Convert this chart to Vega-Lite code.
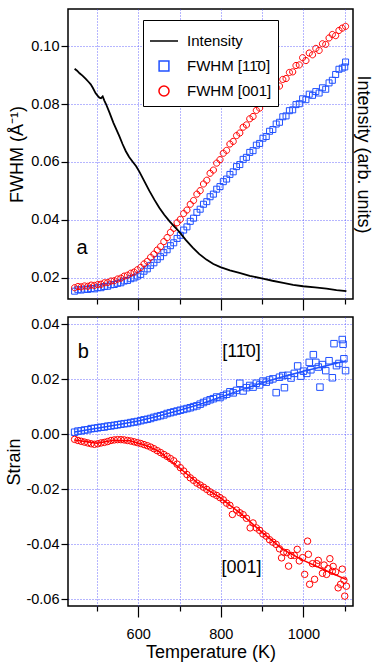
{
 "$schema": "https://vega.github.io/schema/vega-lite/v6.json",
 "background": "white",
 "padding": {"left": 5, "top": 8, "right": 5, "bottom": 5},
 "spacing": 3,
 "config": {
   "font": "Liberation Sans",
   "view": {"stroke": "black", "strokeWidth": 1.5},
   "axis": {"domain": false, "tickColor": "black", "tickWidth": 1.2, "labelColor": "black", "labelFontSize": 14.5, "titleColor": "black", "titleFontSize": 18, "titleFontWeight": "normal", "gridColor": "#3b3bff", "gridDash": [1, 2], "gridOpacity": 0.75, "gridWidth": 1}
 },
 "datasets": {
  "top": [
   {"T":446,"v":0.0922,"s":"k"},{"T":452,"v":0.0915,"s":"k"},{"T":458,"v":0.0906,"s":"k"},{"T":465,"v":0.0898,"s":"k"},{"T":473,"v":0.0887,"s":"k"},{"T":480,"v":0.0876,"s":"k"},{"T":485,"v":0.0868,"s":"k"},{"T":490,"v":0.0856,"s":"k"},{"T":497,"v":0.0837,"s":"k"},{"T":502,"v":0.0828,"s":"k"},{"T":506,"v":0.0822,"s":"k"},{"T":510,"v":0.0820,"s":"k"},{"T":514,"v":0.0826,"s":"k"},{"T":518,"v":0.0812,"s":"k"},{"T":522,"v":0.0800,"s":"k"},{"T":530,"v":0.0772,"s":"k"},{"T":540,"v":0.0735,"s":"k"},{"T":554,"v":0.0690,"s":"k"},{"T":562,"v":0.0662,"s":"k"},{"T":570,"v":0.0637,"s":"k"},{"T":578,"v":0.0617,"s":"k"},{"T":587,"v":0.0600,"s":"k"},{"T":595,"v":0.0585,"s":"k"},{"T":603,"v":0.0566,"s":"k"},{"T":615,"v":0.0533,"s":"k"},{"T":627,"v":0.0500,"s":"k"},{"T":639,"v":0.0470,"s":"k"},{"T":651,"v":0.0442,"s":"k"},{"T":663,"v":0.0418,"s":"k"},{"T":676,"v":0.0395,"s":"k"},{"T":687,"v":0.0378,"s":"k"},{"T":698,"v":0.0361,"s":"k"},{"T":715,"v":0.0331,"s":"k"},{"T":732,"v":0.0304,"s":"k"},{"T":748,"v":0.0282,"s":"k"},{"T":765,"v":0.0263,"s":"k"},{"T":782,"v":0.0248,"s":"k"},{"T":799,"v":0.0237,"s":"k"},{"T":822,"v":0.0226,"s":"k"},{"T":845,"v":0.0217,"s":"k"},{"T":870,"v":0.0207,"s":"k"},{"T":902,"v":0.0197,"s":"k"},{"T":925,"v":0.0190,"s":"k"},{"T":951,"v":0.0183,"s":"k"},{"T":975,"v":0.0176,"s":"k"},{"T":999,"v":0.0171,"s":"k"},{"T":1028,"v":0.0167,"s":"k"},{"T":1056,"v":0.0163,"s":"k"},{"T":1080,"v":0.0158,"s":"k"},{"T":1104,"v":0.0154,"s":"k"},
   {"T":446,"v":0.0154,"s":"b"},{"T":454,"v":0.0159,"s":"b"},{"T":462,"v":0.0158,"s":"b"},{"T":470,"v":0.0161,"s":"b"},{"T":478,"v":0.0160,"s":"b"},{"T":486,"v":0.0163,"s":"b"},{"T":494,"v":0.0162,"s":"b"},{"T":502,"v":0.0166,"s":"b"},{"T":510,"v":0.0166,"s":"b"},{"T":518,"v":0.0170,"s":"b"},{"T":526,"v":0.0171,"s":"b"},{"T":534,"v":0.0176,"s":"b"},{"T":542,"v":0.0177,"s":"b"},{"T":550,"v":0.0181,"s":"b"},{"T":558,"v":0.0183,"s":"b"},{"T":566,"v":0.0189,"s":"b"},{"T":574,"v":0.0191,"s":"b"},{"T":582,"v":0.0197,"s":"b"},{"T":590,"v":0.0200,"s":"b"},{"T":598,"v":0.0206,"s":"b"},{"T":606,"v":0.0212,"s":"b"},{"T":614,"v":0.0223,"s":"b"},{"T":622,"v":0.0231,"s":"b"},{"T":630,"v":0.0243,"s":"b"},{"T":638,"v":0.0252,"s":"b"},{"T":646,"v":0.0264,"s":"b"},{"T":654,"v":0.0273,"s":"b"},{"T":662,"v":0.0287,"s":"b"},{"T":670,"v":0.0297,"s":"b"},{"T":678,"v":0.0311,"s":"b"},{"T":686,"v":0.0321,"s":"b"},{"T":694,"v":0.0336,"s":"b"},{"T":702,"v":0.0347,"s":"b"},{"T":710,"v":0.0365,"s":"b"},{"T":718,"v":0.0376,"s":"b"},{"T":726,"v":0.0395,"s":"b"},{"T":734,"v":0.0406,"s":"b"},{"T":742,"v":0.0426,"s":"b"},{"T":750,"v":0.0437,"s":"b"},{"T":758,"v":0.0454,"s":"b"},{"T":766,"v":0.0463,"s":"b"},{"T":774,"v":0.0480,"s":"b"},{"T":782,"v":0.0489,"s":"b"},{"T":790,"v":0.0506,"s":"b"},{"T":798,"v":0.0515,"s":"b"},{"T":806,"v":0.0532,"s":"b"},{"T":814,"v":0.0541,"s":"b"},{"T":822,"v":0.0557,"s":"b"},{"T":830,"v":0.0566,"s":"b"},{"T":838,"v":0.0584,"s":"b"},{"T":846,"v":0.0591,"s":"b"},{"T":854,"v":0.0609,"s":"b"},{"T":862,"v":0.0616,"s":"b"},{"T":870,"v":0.0633,"s":"b"},{"T":878,"v":0.0639,"s":"b"},{"T":886,"v":0.0658,"s":"b"},{"T":894,"v":0.0664,"s":"b"},{"T":902,"v":0.0682,"s":"b"},{"T":910,"v":0.0688,"s":"b"},{"T":918,"v":0.0706,"s":"b"},{"T":926,"v":0.0712,"s":"b"},{"T":934,"v":0.0731,"s":"b"},{"T":942,"v":0.0737,"s":"b"},{"T":950,"v":0.0756,"s":"b"},{"T":958,"v":0.0759,"s":"b"},{"T":966,"v":0.0777,"s":"b"},{"T":974,"v":0.0780,"s":"b"},{"T":982,"v":0.0798,"s":"b"},{"T":990,"v":0.0801,"s":"b"},{"T":998,"v":0.0818,"s":"b"},{"T":1006,"v":0.0815,"s":"b"},{"T":1014,"v":0.0834,"s":"b"},{"T":1022,"v":0.0830,"s":"b"},{"T":1030,"v":0.0843,"s":"b"},{"T":1038,"v":0.0838,"s":"b"},{"T":1046,"v":0.0856,"s":"b"},{"T":1054,"v":0.0851,"s":"b"},{"T":1062,"v":0.0873,"s":"b"},{"T":1070,"v":0.0882,"s":"b"},{"T":1078,"v":0.0902,"s":"b"},{"T":1086,"v":0.0920,"s":"b"},{"T":1094,"v":0.0924,"s":"b"},{"T":1100,"v":0.0928,"s":"b"},{"T":1102,"v":0.0945,"s":"b"},
   {"T":446,"v":0.0166,"s":"r"},{"T":454,"v":0.0170,"s":"r"},{"T":462,"v":0.0169,"s":"r"},{"T":470,"v":0.0172,"s":"r"},{"T":478,"v":0.0171,"s":"r"},{"T":486,"v":0.0175,"s":"r"},{"T":494,"v":0.0174,"s":"r"},{"T":502,"v":0.0177,"s":"r"},{"T":510,"v":0.0178,"s":"r"},{"T":518,"v":0.0183,"s":"r"},{"T":526,"v":0.0184,"s":"r"},{"T":534,"v":0.0189,"s":"r"},{"T":542,"v":0.0190,"s":"r"},{"T":550,"v":0.0196,"s":"r"},{"T":558,"v":0.0199,"s":"r"},{"T":566,"v":0.0206,"s":"r"},{"T":574,"v":0.0209,"s":"r"},{"T":582,"v":0.0216,"s":"r"},{"T":590,"v":0.0220,"s":"r"},{"T":598,"v":0.0228,"s":"r"},{"T":606,"v":0.0236,"s":"r"},{"T":614,"v":0.0248,"s":"r"},{"T":622,"v":0.0257,"s":"r"},{"T":630,"v":0.0271,"s":"r"},{"T":638,"v":0.0282,"s":"r"},{"T":646,"v":0.0296,"s":"r"},{"T":654,"v":0.0308,"s":"r"},{"T":662,"v":0.0325,"s":"r"},{"T":670,"v":0.0339,"s":"r"},{"T":678,"v":0.0357,"s":"r"},{"T":686,"v":0.0371,"s":"r"},{"T":694,"v":0.0390,"s":"r"},{"T":702,"v":0.0402,"s":"r"},{"T":710,"v":0.0422,"s":"r"},{"T":718,"v":0.0434,"s":"r"},{"T":726,"v":0.0454,"s":"r"},{"T":734,"v":0.0467,"s":"r"},{"T":742,"v":0.0489,"s":"r"},{"T":750,"v":0.0501,"s":"r"},{"T":758,"v":0.0524,"s":"r"},{"T":766,"v":0.0537,"s":"r"},{"T":774,"v":0.0561,"s":"r"},{"T":782,"v":0.0572,"s":"r"},{"T":790,"v":0.0596,"s":"r"},{"T":798,"v":0.0608,"s":"r"},{"T":806,"v":0.0630,"s":"r"},{"T":814,"v":0.0640,"s":"r"},{"T":822,"v":0.0662,"s":"r"},{"T":830,"v":0.0671,"s":"r"},{"T":838,"v":0.0691,"s":"r"},{"T":846,"v":0.0700,"s":"r"},{"T":854,"v":0.0720,"s":"r"},{"T":862,"v":0.0728,"s":"r"},{"T":870,"v":0.0749,"s":"r"},{"T":878,"v":0.0757,"s":"r"},{"T":886,"v":0.0778,"s":"r"},{"T":894,"v":0.0786,"s":"r"},{"T":902,"v":0.0806,"s":"r"},{"T":910,"v":0.0812,"s":"r"},{"T":918,"v":0.0833,"s":"r"},{"T":926,"v":0.0838,"s":"r"},{"T":934,"v":0.0858,"s":"r"},{"T":942,"v":0.0862,"s":"r"},{"T":950,"v":0.0885,"s":"r"},{"T":958,"v":0.0888,"s":"r"},{"T":966,"v":0.0909,"s":"r"},{"T":974,"v":0.0911,"s":"r"},{"T":982,"v":0.0933,"s":"r"},{"T":990,"v":0.0935,"s":"r"},{"T":998,"v":0.0960,"s":"r"},{"T":1006,"v":0.0950,"s":"r"},{"T":1014,"v":0.0976,"s":"r"},{"T":1022,"v":0.0970,"s":"r"},{"T":1030,"v":0.0992,"s":"r"},{"T":1038,"v":0.0985,"s":"r"},{"T":1046,"v":0.1008,"s":"r"},{"T":1054,"v":0.1006,"s":"r"},{"T":1062,"v":0.1028,"s":"r"},{"T":1070,"v":0.1040,"s":"r"},{"T":1078,"v":0.1036,"s":"r"},{"T":1086,"v":0.1054,"s":"r"},{"T":1094,"v":0.1062,"s":"r"},{"T":1102,"v":0.1068,"s":"r"}
  ],
  "bot": [
   {"T":446,"v":0.0008,"s":"b"},{"T":454,"v":0.0012,"s":"b"},{"T":462,"v":0.0013,"s":"b"},{"T":470,"v":0.0016,"s":"b"},{"T":478,"v":0.0017,"s":"b"},{"T":486,"v":0.0021,"s":"b"},{"T":494,"v":0.0022,"s":"b"},{"T":502,"v":0.0024,"s":"b"},{"T":510,"v":0.0026,"s":"b"},{"T":518,"v":0.0027,"s":"b"},{"T":526,"v":0.0030,"s":"b"},{"T":534,"v":0.0031,"s":"b"},{"T":542,"v":0.0033,"s":"b"},{"T":550,"v":0.0035,"s":"b"},{"T":558,"v":0.0037,"s":"b"},{"T":566,"v":0.0039,"s":"b"},{"T":574,"v":0.0040,"s":"b"},{"T":582,"v":0.0043,"s":"b"},{"T":590,"v":0.0045,"s":"b"},{"T":598,"v":0.0047,"s":"b"},{"T":606,"v":0.0050,"s":"b"},{"T":614,"v":0.0053,"s":"b"},{"T":622,"v":0.0055,"s":"b"},{"T":630,"v":0.0058,"s":"b"},{"T":638,"v":0.0062,"s":"b"},{"T":646,"v":0.0065,"s":"b"},{"T":654,"v":0.0068,"s":"b"},{"T":662,"v":0.0071,"s":"b"},{"T":670,"v":0.0076,"s":"b"},{"T":678,"v":0.0079,"s":"b"},{"T":686,"v":0.0082,"s":"b"},{"T":694,"v":0.0085,"s":"b"},{"T":702,"v":0.0088,"s":"b"},{"T":710,"v":0.0091,"s":"b"},{"T":718,"v":0.0094,"s":"b"},{"T":726,"v":0.0097,"s":"b"},{"T":734,"v":0.0101,"s":"b"},{"T":742,"v":0.0104,"s":"b"},{"T":750,"v":0.0110,"s":"b"},{"T":758,"v":0.0116,"s":"b"},{"T":766,"v":0.0121,"s":"b"},{"T":774,"v":0.0126,"s":"b"},{"T":782,"v":0.0130,"s":"b"},{"T":790,"v":0.0136,"s":"b"},{"T":798,"v":0.0134,"s":"b"},{"T":806,"v":0.0141,"s":"b"},{"T":814,"v":0.0146,"s":"b"},{"T":822,"v":0.0155,"s":"b"},{"T":830,"v":0.0151,"s":"b"},{"T":838,"v":0.0160,"s":"b"},{"T":846,"v":0.0186,"s":"b"},{"T":854,"v":0.0158,"s":"b"},{"T":862,"v":0.0170,"s":"b"},{"T":870,"v":0.0178,"s":"b"},{"T":878,"v":0.0172,"s":"b"},{"T":886,"v":0.0186,"s":"b"},{"T":894,"v":0.0180,"s":"b"},{"T":902,"v":0.0194,"s":"b"},{"T":910,"v":0.0190,"s":"b"},{"T":918,"v":0.0198,"s":"b"},{"T":926,"v":0.0202,"s":"b"},{"T":934,"v":0.0152,"s":"b"},{"T":942,"v":0.0208,"s":"b"},{"T":950,"v":0.0214,"s":"b"},{"T":954,"v":0.0170,"s":"b"},{"T":962,"v":0.0215,"s":"b"},{"T":970,"v":0.0205,"s":"b"},{"T":978,"v":0.0222,"s":"b"},{"T":986,"v":0.0249,"s":"b"},{"T":994,"v":0.0212,"s":"b"},{"T":1000,"v":0.0230,"s":"b"},{"T":1008,"v":0.0222,"s":"b"},{"T":1014,"v":0.0262,"s":"b"},{"T":1018,"v":0.0235,"s":"b"},{"T":1024,"v":0.0290,"s":"b"},{"T":1030,"v":0.0262,"s":"b"},{"T":1036,"v":0.0245,"s":"b"},{"T":1040,"v":0.0172,"s":"b"},{"T":1046,"v":0.0254,"s":"b"},{"T":1054,"v":0.0232,"s":"b"},{"T":1062,"v":0.0268,"s":"b"},{"T":1070,"v":0.0206,"s":"b"},{"T":1074,"v":0.0330,"s":"b"},{"T":1080,"v":0.0250,"s":"b"},{"T":1086,"v":0.0258,"s":"b"},{"T":1094,"v":0.0345,"s":"b"},{"T":1096,"v":0.0328,"s":"b"},{"T":1098,"v":0.0275,"s":"b"},{"T":1102,"v":0.0232,"s":"b"},
   {"T":446,"v":-0.0018,"s":"r"},{"T":454,"v":-0.0022,"s":"r"},{"T":462,"v":-0.0025,"s":"r"},{"T":470,"v":-0.0028,"s":"r"},{"T":478,"v":-0.0031,"s":"r"},{"T":486,"v":-0.0034,"s":"r"},{"T":494,"v":-0.0036,"s":"r"},{"T":502,"v":-0.0034,"s":"r"},{"T":510,"v":-0.0031,"s":"r"},{"T":518,"v":-0.0029,"s":"r"},{"T":526,"v":-0.0026,"s":"r"},{"T":534,"v":-0.0022,"s":"r"},{"T":542,"v":-0.0020,"s":"r"},{"T":550,"v":-0.0019,"s":"r"},{"T":558,"v":-0.0019,"s":"r"},{"T":566,"v":-0.0020,"s":"r"},{"T":574,"v":-0.0022,"s":"r"},{"T":582,"v":-0.0024,"s":"r"},{"T":590,"v":-0.0027,"s":"r"},{"T":598,"v":-0.0030,"s":"r"},{"T":606,"v":-0.0033,"s":"r"},{"T":614,"v":-0.0037,"s":"r"},{"T":622,"v":-0.0041,"s":"r"},{"T":630,"v":-0.0046,"s":"r"},{"T":638,"v":-0.0052,"s":"r"},{"T":646,"v":-0.0059,"s":"r"},{"T":654,"v":-0.0066,"s":"r"},{"T":662,"v":-0.0073,"s":"r"},{"T":670,"v":-0.0080,"s":"r"},{"T":678,"v":-0.0088,"s":"r"},{"T":686,"v":-0.0096,"s":"r"},{"T":694,"v":-0.0108,"s":"r"},{"T":702,"v":-0.0121,"s":"r"},{"T":710,"v":-0.0133,"s":"r"},{"T":718,"v":-0.0146,"s":"r"},{"T":726,"v":-0.0158,"s":"r"},{"T":734,"v":-0.0167,"s":"r"},{"T":742,"v":-0.0177,"s":"r"},{"T":750,"v":-0.0184,"s":"r"},{"T":758,"v":-0.0192,"s":"r"},{"T":766,"v":-0.0200,"s":"r"},{"T":774,"v":-0.0209,"s":"r"},{"T":782,"v":-0.0216,"s":"r"},{"T":790,"v":-0.0222,"s":"r"},{"T":798,"v":-0.0230,"s":"r"},{"T":806,"v":-0.0238,"s":"r"},{"T":814,"v":-0.0250,"s":"r"},{"T":822,"v":-0.0258,"s":"r"},{"T":828,"v":-0.0291,"s":"r"},{"T":838,"v":-0.0275,"s":"r"},{"T":846,"v":-0.0285,"s":"r"},{"T":854,"v":-0.0292,"s":"r"},{"T":862,"v":-0.0305,"s":"r"},{"T":871,"v":-0.0340,"s":"r"},{"T":878,"v":-0.0322,"s":"r"},{"T":886,"v":-0.0340,"s":"r"},{"T":894,"v":-0.0349,"s":"r"},{"T":902,"v":-0.0362,"s":"r"},{"T":910,"v":-0.0370,"s":"r"},{"T":918,"v":-0.0383,"s":"r"},{"T":926,"v":-0.0392,"s":"r"},{"T":934,"v":-0.0400,"s":"r"},{"T":942,"v":-0.0416,"s":"r"},{"T":947,"v":-0.0449,"s":"r"},{"T":952,"v":-0.0428,"s":"r"},{"T":960,"v":-0.0430,"s":"r"},{"T":964,"v":-0.0479,"s":"r"},{"T":970,"v":-0.0440,"s":"r"},{"T":978,"v":-0.0440,"s":"r"},{"T":985,"v":-0.0418,"s":"r"},{"T":990,"v":-0.0460,"s":"r"},{"T":998,"v":-0.0448,"s":"r"},{"T":1003,"v":-0.0509,"s":"r"},{"T":1010,"v":-0.0388,"s":"r"},{"T":1012,"v":-0.0436,"s":"r"},{"T":1015,"v":-0.0545,"s":"r"},{"T":1022,"v":-0.0470,"s":"r"},{"T":1027,"v":-0.0527,"s":"r"},{"T":1032,"v":-0.0470,"s":"r"},{"T":1036,"v":-0.0458,"s":"r"},{"T":1046,"v":-0.0505,"s":"r"},{"T":1050,"v":-0.0475,"s":"r"},{"T":1056,"v":-0.0509,"s":"r"},{"T":1060,"v":-0.0488,"s":"r"},{"T":1064,"v":-0.0452,"s":"r"},{"T":1070,"v":-0.0498,"s":"r"},{"T":1072,"v":-0.0480,"s":"r"},{"T":1078,"v":-0.0500,"s":"r"},{"T":1084,"v":-0.0558,"s":"r"},{"T":1090,"v":-0.0545,"s":"r"},{"T":1094,"v":-0.0490,"s":"r"},{"T":1098,"v":-0.0530,"s":"r"},{"T":1100,"v":-0.0588,"s":"r"},{"T":1104,"v":-0.0552,"s":"r"}
  ],
  "fit": [
   {"T":446,"v":0.0009,"s":"b"},{"T":500,"v":0.0022,"s":"b"},{"T":550,"v":0.0035,"s":"b"},{"T":600,"v":0.0049,"s":"b"},{"T":650,"v":0.0067,"s":"b"},{"T":700,"v":0.0088,"s":"b"},{"T":750,"v":0.0110,"s":"b"},{"T":800,"v":0.0136,"s":"b"},{"T":850,"v":0.0162,"s":"b"},{"T":900,"v":0.0188,"s":"b"},{"T":950,"v":0.0210,"s":"b"},{"T":1000,"v":0.0230,"s":"b"},{"T":1050,"v":0.0248,"s":"b"},{"T":1104,"v":0.0268,"s":"b"},
   {"T":446,"v":-0.0020,"s":"r"},{"T":500,"v":-0.0032,"s":"r"},{"T":540,"v":-0.0021,"s":"r"},{"T":580,"v":-0.0023,"s":"r"},{"T":620,"v":-0.0040,"s":"r"},{"T":650,"v":-0.0062,"s":"r"},{"T":700,"v":-0.0122,"s":"r"},{"T":750,"v":-0.0184,"s":"r"},{"T":800,"v":-0.0232,"s":"r"},{"T":850,"v":-0.0290,"s":"r"},{"T":900,"v":-0.0356,"s":"r"},{"T":950,"v":-0.0418,"s":"r"},{"T":1000,"v":-0.0458,"s":"r"},{"T":1050,"v":-0.0492,"s":"r"},{"T":1104,"v":-0.0528,"s":"r"}
  ],
  "lab": [
   {"T":464,"v":0.0303,"t":"a"},
   {"T":467,"v":0.0299,"t":"b"},
   {"T":850,"v":0.0300,"t":"[11\u03040]"},
   {"T":850,"v":-0.0485,"t":"[001]"}
  ]
 },
 "resolve": {"scale": {"color": "independent", "shape": "independent"}},
 "vconcat": [
  {
   "width": 285, "height": 290,
   "layer": [
    {"layer": [
     {"data": {"name": "top"}, "transform": [{"filter": "datum.s !== 'k'"}],
      "mark": {"type": "point", "filled": false, "size": 294, "strokeWidth": 1, "opacity": 1},
      "encoding": {
       "x": {"field": "T", "type": "quantitative", "scale": {"domain": [430, 1120], "nice": false, "zero": false},
             "axis": {"values": [500,600,700,800,900,1000,1100], "labels": false, "title": null, "grid": true,
                      "tickSize": {"condition": {"test": "datum.value % 200 === 0", "value": 11}, "value": 5}}},
       "y": {"field": "v", "type": "quantitative", "scale": {"domain": [0.0127, 0.1128], "nice": false, "zero": false},
             "axis": {"values": [0.02,0.04,0.06,0.08,0.1], "format": ".2f", "tickSize": 7, "labelPadding": 2, "title": "FWHM (Å⁻¹)", "titlePadding": 4, "grid": true}},
       "color": {"field": "s", "type": "nominal", "scale": {"domain": ["k","b","r"], "range": ["black","#1f50ff","#ff0000"]},
                 "legend": {"title": null, "orient": "none", "legendX": 75, "legendY": 11,
                            "labelExpr": "datum.value === 'k' ? 'Intensity' : datum.value === 'b' ? 'FWHM [11\u03040]' : 'FWHM [001]'",
                            "labelFontSize": 15, "labelColor": "black", "symbolSize": 784, "symbolStrokeWidth": 1.5, "padding": 6, "rowPadding": 2, "labelOffset": 8,
                            "strokeColor": "black", "fillColor": "white"}},
       "shape": {"field": "s", "type": "nominal", "scale": {"domain": ["k","b","r"], "range": ["M-1,0H1", "M-0.35,-0.35H0.35V0.35H-0.35Z", "M0.36,0A0.36,0.36,0,1,1,-0.36,0A0.36,0.36,0,1,1,0.36,0Z"]},
                 "legend": {"title": null, "orient": "none", "legendX": 75, "legendY": 11,
                            "labelExpr": "datum.value === 'k' ? 'Intensity' : datum.value === 'b' ? 'FWHM [11\u03040]' : 'FWHM [001]'",
                            "labelFontSize": 15, "labelColor": "black", "symbolSize": 784, "symbolStrokeWidth": 1.5, "padding": 6, "rowPadding": 2, "labelOffset": 8,
                            "strokeColor": "black", "fillColor": "white"}}
      }},
     {"data": {"name": "lab"}, "transform": [{"filter": "datum.t === 'a'"}],
      "mark": {"type": "text", "fontSize": 20, "baseline": "middle", "align": "center", "color": "black"},
      "encoding": {"x": {"field": "T", "type": "quantitative"}, "y": {"field": "v", "type": "quantitative"}, "text": {"field": "t"}}}
    ]},
    {"data": {"name": "top"}, "transform": [{"filter": "datum.s === 'k'"}],
     "mark": {"type": "line", "strokeWidth": 1.8},
     "encoding": {
      "x": {"field": "T", "type": "quantitative"},
      "y": {"field": "v", "type": "quantitative", "scale": {"domain": [0.0127, 0.1128], "nice": false, "zero": false},
            "axis": {"orient": "right", "labels": false, "ticks": false, "grid": false, "title": "Intensity (arb. units)", "titlePadding": 0}},
      "color": {"field": "s", "type": "nominal", "scale": {"domain": ["k","b","r"], "range": ["black","#1f50ff","#ff0000"]}}
     }}
   ],
   "resolve": {"scale": {"y": "independent"}}
  },
  {
   "width": 285, "height": 289,
   "layer": [
    {"data": {"name": "bot"},
     "mark": {"type": "point", "filled": false, "size": 42, "strokeWidth": 1, "opacity": 1},
     "encoding": {
      "x": {"field": "T", "type": "quantitative", "scale": {"domain": [430, 1120], "nice": false, "zero": false},
            "axis": {"values": [500,600,700,800,900,1000,1100], "format": "d", "grid": true,
                     "labelExpr": "datum.value % 200 === 0 ? datum.label : ''", "labelPadding": 10,
                     "tickSize": {"condition": {"test": "datum.value % 200 === 0", "value": 11}, "value": 5},
                     "title": "Temperature (K)", "titlePadding": 3}},
      "y": {"field": "v", "type": "quantitative", "scale": {"domain": [-0.0624, 0.0427], "nice": false, "zero": false},
            "axis": {"values": [-0.06,-0.04,-0.02,0,0.02,0.04], "format": ".2f", "labelExpr": "replace(datum.label, '−', '-')", "tickSize": 7, "labelPadding": 2, "title": "Strain", "titlePadding": 2, "grid": true}},
      "color": {"field": "s", "type": "nominal", "scale": {"domain": ["b","r"], "range": ["#1f50ff","#ff0000"]}, "legend": null},
      "shape": {"field": "s", "type": "nominal", "scale": {"domain": ["b","r"], "range": ["square","circle"]}, "legend": null}
     }},
    {"data": {"name": "fit"},
     "mark": {"type": "line", "strokeWidth": 1.5},
     "encoding": {
      "x": {"field": "T", "type": "quantitative"},
      "y": {"field": "v", "type": "quantitative"},
      "color": {"field": "s", "type": "nominal", "scale": {"domain": ["b","r"], "range": ["#1f50ff","#ff0000"]}, "legend": null}
     }},
    {"data": {"name": "lab"}, "transform": [{"filter": "datum.t === 'b'"}],
     "mark": {"type": "text", "fontSize": 20, "baseline": "middle", "align": "center", "color": "black"},
     "encoding": {"x": {"field": "T", "type": "quantitative"}, "y": {"field": "v", "type": "quantitative"}, "text": {"field": "t"}}},
    {"data": {"name": "lab"}, "transform": [{"filter": "datum.t !== 'a' && datum.t !== 'b'"}],
     "mark": {"type": "text", "fontSize": 18, "baseline": "middle", "align": "center", "color": "black"},
     "encoding": {"x": {"field": "T", "type": "quantitative"}, "y": {"field": "v", "type": "quantitative"}, "text": {"field": "t"}}}
   ]
  }
 ]
}
